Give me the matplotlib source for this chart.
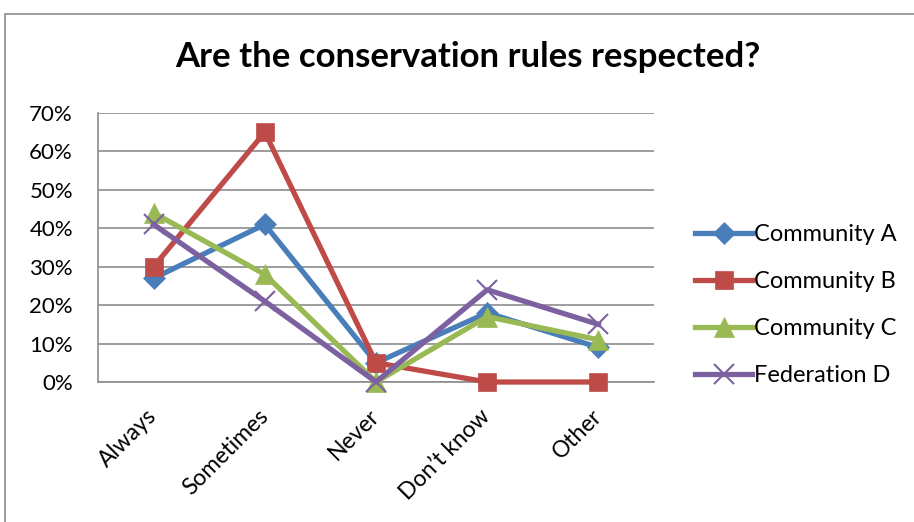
import matplotlib
matplotlib.use("Agg")
import matplotlib.pyplot as plt
from matplotlib.patches import Rectangle
from matplotlib.ticker import FuncFormatter, MultipleLocator

categories = ["Always", "Sometimes", "Never", "Don\u2019t know", "Other"]
series_names = ["Community A", "Community B", "Community C", "Federation D"]
community_a = [27, 41, 5, 18, 9]
community_b = [30, 65, 5, 0, 0]
community_c = [44, 28, 0, 17, 11]
federation_d = [41, 21, 0, 24, 15]

colors = ["#4A7EBB", "#BE4B48", "#98B954", "#7D60A0"]
markers = ["D", "s", "^", "x"]
msizes = [11, 13, 14, 14]

plt.rcParams["font.family"] = ["Lato", "DejaVu Sans"]

fig = plt.figure(figsize=(9.14, 5.22), dpi=100)
W, H = 914, 522

# chart frame
fig.patches.append(Rectangle((5 / W, -0.1), 1.2, 1 - 14 / H + 0.1,
                             transform=fig.transFigure, fill=False,
                             edgecolor="#8c8c8c", linewidth=1.2))

ax = fig.add_axes([98 / W, 140 / H, 556 / W, 269 / H])
x = list(range(len(categories)))
for vals, name, c, m, ms in zip(
        [community_a, community_b, community_c, federation_d],
        series_names, colors, markers, msizes):
    ax.plot(x, vals, color=c, linewidth=3.8, marker=m, markersize=ms,
            markeredgewidth=1.5 if m == "x" else 0.5, markeredgecolor=c,
            label=name, solid_joinstyle="round", clip_on=False, zorder=3)

ax.set_xlim(-0.5, len(categories) - 0.5)
ax.set_ylim(0, 70)
ax.yaxis.set_major_locator(MultipleLocator(10))
ax.yaxis.set_major_formatter(FuncFormatter(lambda v, p: f"{v:.0f}%"))
ax.grid(axis="y", color="#8c8c8c", linewidth=1.2)
ax.set_axisbelow(True)
for s in ["top", "right"]:
    ax.spines[s].set_visible(False)
for s in ["left", "bottom"]:
    ax.spines[s].set_color("#8c8c8c")
    ax.spines[s].set_linewidth(1.2)
ax.set_xticks(x)
ax.set_xticklabels(categories, rotation=45, ha="right", va="center",
                   rotation_mode="anchor", fontsize=16.5)
ax.tick_params(axis="x", length=0, pad=22)
ax.tick_params(axis="y", length=0, pad=18, labelsize=16)

fig.text(468 / W, 1 - 57 / H, "Are the conservation rules respected?",
         ha="center", va="center", fontsize=25, fontweight="bold")

fig.legend(loc="center left", bbox_to_anchor=(686 / W, 1 - 305 / H),
           frameon=False, fontsize=17, handlelength=2.4, handletextpad=0.08,
           labelspacing=1.1, borderaxespad=0)

fig.savefig("out.png", dpi=100)
